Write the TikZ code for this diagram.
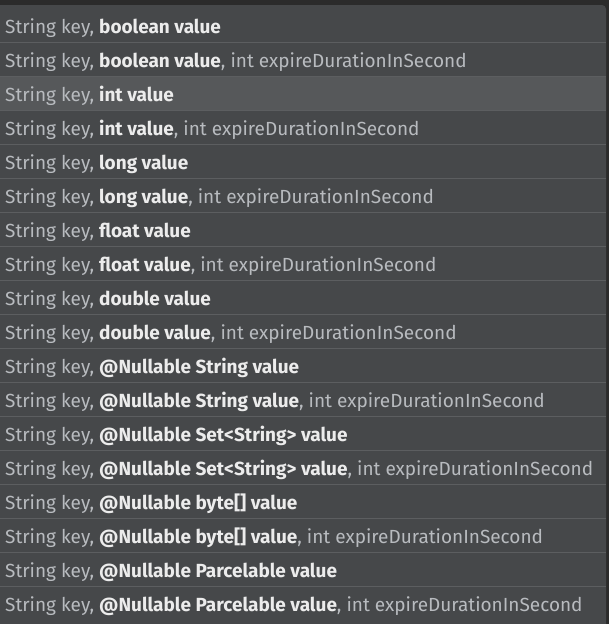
\documentclass[tikz,border=0pt]{standalone}
\usepackage{fontspec}
\setmainfont{Fira Sans}
\definecolor{editorbg}{HTML}{2B2B2B}
\definecolor{popbg}{HTML}{46484A}
\definecolor{selbg}{HTML}{56585A}
\definecolor{sepline}{HTML}{5C5E60}
\definecolor{normtxt}{HTML}{B8BBBF}
\definecolor{boldtxt}{HTML}{ECECEC}
\newcommand{\bv}[1]{{\bfseries\color{boldtxt}#1}}
\tikzset{
  rowtext/.style={anchor=base west, inner sep=0pt, text=normtxt, font=\fontsize{19}{21}\selectfont},
  seprule/.style={draw=sepline, line width=1pt},
}
\begin{document}
\begin{tikzpicture}[x=1pt,y=-1pt]
\useasboundingbox (0,0) rectangle (609,624);
\fill[editorbg] (0,0) rectangle (609,624);
\fill[popbg, rounded corners=4pt] (-10,5) rectangle (606,640);
\fill[selbg] (0,76.5) rectangle (606,109.5);
\foreach \k in {0,...,16} {
  \draw[seprule] (0,{42+34*\k}) -- (606,{42+34*\k});
}
\def\ex{, int expireDurationInSecond}
\node[rowtext] (r1)  at (5,33)  {String key, \bv{boolean value}};
\node[rowtext] (r2)  at (5,67)  {String key, \bv{boolean value}\ex};
\node[rowtext] (r3)  at (5,101) {String key, \bv{int value}};
\node[rowtext] (r4)  at (5,135) {String key, \bv{int value}\ex};
\node[rowtext] (r5)  at (5,169) {String key, \bv{long value}};
\node[rowtext] (r6)  at (5,203) {String key, \bv{long value}\ex};
\node[rowtext] (r7)  at (5,237) {String key, \bv{float value}};
\node[rowtext] (r8)  at (5,271) {String key, \bv{float value}\ex};
\node[rowtext] (r9)  at (5,305) {String key, \bv{double value}};
\node[rowtext] (r10) at (5,339) {String key, \bv{double value}\ex};
\node[rowtext] (r11) at (5,373) {String key, \bv{@Nullable String value}};
\node[rowtext] (r12) at (5,407) {String key, \bv{@Nullable String value}\ex};
\node[rowtext] (r13) at (5,441) {String key, \bv{@Nullable Set<String> value}};
\node[rowtext] (r14) at (5,475) {String key, \bv{@Nullable Set<String> value}\ex};
\node[rowtext] (r15) at (5,509) {String key, \bv{@Nullable byte[] value}};
\node[rowtext] (r16) at (5,543) {String key, \bv{@Nullable byte[] value}\ex};
\node[rowtext] (r17) at (5,577) {String key, \bv{@Nullable Parcelable value}};
\node[rowtext] (r18) at (5,611) {String key, \bv{@Nullable Parcelable value}\ex};
\end{tikzpicture}
\end{document}
